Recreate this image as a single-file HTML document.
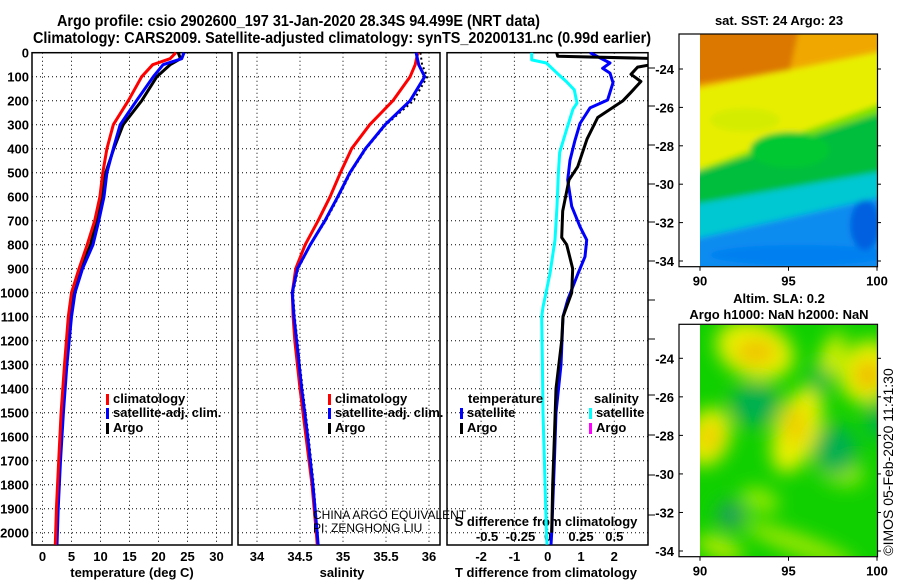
<!DOCTYPE html>
<html><head><meta charset="utf-8"><style>
body{margin:0;background:#fff}
svg text{font-family:"Liberation Sans",Arial,sans-serif;font-weight:bold;font-size:13px}
svg text.nb{font-weight:normal}
</style></head><body>
<svg id="c" width="900" height="580" viewBox="0 0 900 580" xmlns="http://www.w3.org/2000/svg">
<defs>
<filter id="blur1"><feGaussianBlur stdDeviation="3"/></filter>
<filter id="blur2"><feGaussianBlur stdDeviation="9"/></filter>
<clipPath id="clipTop"><rect x="700" y="34" width="177" height="232"/></clipPath>
<clipPath id="clipBot"><rect x="700" y="325" width="177" height="231"/></clipPath>
<clipPath id="clipP3"><rect x="447" y="52" width="201" height="493"/></clipPath>
</defs>
<text x="57" y="26" style="font-size:16px" textLength="483" lengthAdjust="spacingAndGlyphs">Argo profile: csio 2902600_197 31-Jan-2020 28.34S 94.499E (NRT data)</text>
<text x="33" y="43" style="font-size:16px" textLength="618" lengthAdjust="spacingAndGlyphs">Climatology: CARS2009. Satellite-adjusted climatology: synTS_20200131.nc (0.99d earlier)</text>
<g id="g"></g>
</svg>
<script>
// ---- data ----
const tDepth = [0,25,50,100,200,300,400,500,600,700,800,900,1000,1100,1300,1500,1700,1900,2050];
const tClim  = [23.0,22.0,19.0,17.1,14.8,12.2,11.1,10.4,9.9,9.0,7.7,6.3,5.0,4.45,3.8,3.2,2.8,2.4,2.2];
const tSat   = [24.4,24.0,20.8,19.1,16.2,13.4,12.2,11.1,10.6,9.7,8.7,6.9,5.6,5.0,4.2,3.6,3.1,2.7,2.5];
const tArgoDepth = [0,25,50,100,200,300,400,500,600,700,800,900,1000,1100,1300,1500,1700,1900,2000];
const tArgo  = [23.4,23.8,22.0,19.7,17.1,13.9,12.3,10.9,10.2,9.3,8.3,6.6,5.3,4.8,4.1,3.5,3.0,2.6,2.5];
const sDepth = [0,50,100,200,300,400,500,600,700,800,900,1000,1100,1200,1400,1600,1800,2000,2050];
const sClim  = [35.87,35.84,35.78,35.58,35.31,35.10,34.97,34.85,34.71,34.56,34.45,34.41,34.42,34.44,34.50,34.57,34.64,34.69,34.70];
const sSat   = [35.85,35.88,35.95,35.78,35.49,35.26,35.08,34.94,34.79,34.62,34.47,34.41,34.43,34.46,34.52,34.59,34.65,34.70,34.71];
const sArgo  = [35.90,35.92,35.98,35.82,35.50,35.27,35.09,34.95,34.80,34.62,34.48,34.42,34.44,34.47,34.53,34.60,34.66,34.70,34.71];
const dArgoDepth = [0,15,25,40,60,90,120,165,200,270,360,475,530,660,770,800,900,1000,1100,1200,1400,1600,1800,2000];
const dTArgo = [0.27,0.3,3.5,3.5,2.7,2.5,2.8,2.5,2.26,1.5,1.18,0.9,0.64,0.45,0.42,0.57,0.75,0.72,0.46,0.42,0.25,0.2,0.15,0.12];
const dSatDepth = [0,43,65,85,125,197,230,295,365,448,530,640,725,780,850,920,1030,1100,1300,1500,1700,2000,2050];
const dTSat  = [1.27,1.87,1.65,1.87,1.96,1.8,1.27,0.97,0.82,0.67,0.6,0.72,0.97,1.17,1.12,0.91,0.6,0.46,0.4,0.25,0.2,0.12,0.1];
const dSDepth = [0,30,43,85,120,155,210,235,305,415,500,640,780,920,1060,1100,1300,1500,1700,2000,2050];
const dSSat  = [-0.12,-0.12,-0.01,0.07,0.14,0.2,0.22,0.19,0.15,0.09,0.08,0.07,0.055,0.017,-0.035,-0.045,-0.04,-0.035,-0.025,-0.01,-0.005];
const depthTicks = [0,100,200,300,400,500,600,700,800,900,1000,1100,1200,1300,1400,1500,1600,1700,1800,1900,2000];
const tTicks = [0,5,10,15,20,25,30];
const sTicks = [34,34.5,35,35.5,36];
const sTickLabels = ["34","34.5","35","35.5","36"];
const dTTicks = [-2,-1,0,1,2];
const dSTicks = [-0.5,-0.25,0,0.25,0.5];
const dSTickLabels = ["-0.5","-0.25","0","0.25","0.5"];
const latTicks = [-24,-26,-28,-30,-32,-34];
const lonTicks = [90,95,100];

// ---- scales ----
const Y0=52.7, YB=545;
const yD = d => Y0 + d*0.24;
const xT = t => 42.5 + 5.8*t;
const xS = s => 257 + 86*(s-34);
const xDT = t => 547.7 + 33.3*t;
const xDS = s => 547.7 + 133.2*s;
const latTop = l => 69 + (-24-l)*19.2;
const latBot = l => 358.3 + (-24-l)*19.27;
const lonX = l => 700 + (l-90)*17.7;

const NS="http://www.w3.org/2000/svg";
const G=document.getElementById('g');
function mk(tag, attrs, parent){const e=document.createElementNS(NS,tag);for(const k in attrs)e.setAttribute(k,attrs[k]);(parent||G).appendChild(e);return e;}
function txt(x,y,s,anchor,extra){const e=mk('text',Object.assign({x:x,y:y,'text-anchor':anchor||'middle'},extra||{}));e.textContent=s;return e;}

// ---- panels ----
const panels=[{x0:32,x1:232,n:'temperature'},{x0:238,x1:440,n:'salinity'},{x0:447,x1:648,n:'difference'}];
panels.forEach(p=>{
  const r=mk('rect',{x:p.x0,y:Y0,width:p.x1-p.x0,height:YB-Y0,fill:'#fff',stroke:'#000','stroke-width':1.5});
  
  
  depthTicks.forEach(d=>{ if(d===0) return;
    const l=mk('line',{x1:p.x0,x2:p.x1,y1:yD(d),y2:yD(d),stroke:'#000','stroke-dasharray':'1,3'});
    
    
  });
});
function vgrid(xs,fn){xs.forEach(v=>{const l=mk('line',{x1:fn(v),x2:fn(v),y1:Y0,y2:YB,stroke:'#000','stroke-dasharray':'1,3'});
  
  });}
vgrid(tTicks,xT); vgrid(sTicks,xS); vgrid(dTTicks,xDT);

depthTicks.forEach(d=>{const t=txt(29,yD(d)+5,String(d),'end');
  
  });
tTicks.forEach(v=>{const t=txt(xT(v),561,String(v));
  
  });
sTicks.forEach((v,i)=>{const t=txt(xS(v),561,sTickLabels[i]);
  
  });
dTTicks.forEach(v=>{const t=txt(xDT(v),561,String(v));
  
  });
dSTicks.forEach((v,i)=>{const t=txt(xDS(v)+(v<0?6:0),541,dSTickLabels[i]);
  
  });
let at;
at=txt(132,577,'temperature (deg C)');  
at=txt(342,577,'salinity');  
at=txt(546,577,'T difference from climatology');  
at=txt(546,526,'S difference from climatology');  
// right ticks panel 3
[68,106,145,184,222,261,300,339,395,435,475,515].forEach(y=>{const l=mk('line',{x1:648,x2:655,y1:y,y2:y,stroke:'#000'});
  
  });

function line(ds,vs,xf,color,name,extra){
  const pts=ds.map((d,i)=>xf(vs[i]).toFixed(1)+','+yD(d).toFixed(1)).join(' ');
  const e=mk('polyline',Object.assign({points:pts,fill:'none',stroke:color,'stroke-width':3,'stroke-linejoin':'round'},extra||{}));
  
  
  return e;
}
line(tArgoDepth,tArgo,xT,'#000','temperature-argo-line');
line(tDepth,tSat,xT,'#0000ff','temperature-satellite-line');
line(tDepth,tClim,xT,'#ff0000','temperature-climatology-line');
line(sDepth,sClim,xS,'#ff0000','salinity-climatology-line');
line(sDepth,sArgo,xS,'#000','salinity-argo-line',{'stroke-dasharray':'2,3','stroke-width':2});
line(sDepth,sSat,xS,'#0000ff','salinity-satellite-line');
const cl={'clip-path':'url(#clipP3)'};
line(dSDepth,dSSat,xDS,'#00ffff','s-difference-satellite-line',cl);
line(dSatDepth,dTSat,xDT,'#0000ff','t-difference-satellite-line',cl);
line(dArgoDepth,dTArgo,xDT,'#000','t-difference-argo-line',cl);

// legends
function leg(x,y,c,s,n){const b=mk('rect',{x:x,y:y-9,width:3,height:11,fill:c});
  
  
  const t=txt(x+7,y,s,'start');
  
  }
leg(106,403,'#ff0000','climatology','legend-temp-climatology');
leg(106,417,'#0000ff','satellite-adj. clim.','legend-temp-satellite');
leg(106,432,'#000','Argo','legend-temp-argo');
leg(328,403,'#ff0000','climatology','legend-sal-climatology');
leg(328,417,'#0000ff','satellite-adj. clim.','legend-sal-satellite');
leg(328,432,'#000','Argo','legend-sal-argo');
at=txt(468,403,'temperature','start');  
at=txt(594,403,'salinity','start');  
leg(460,417,'#0000ff','satellite','legend-dt-satellite');
leg(460,432,'#000','Argo','legend-dt-argo');
leg(589,417,'#00ffff','satellite','legend-ds-satellite');
leg(589,432,'#ff00ff','Argo','legend-ds-argo');
at=txt(313,519,'CHINA ARGO EQUIVALENT','start',{'class':'nb',style:'font-size:12px'});  
at=txt(313,532,'PI: ZENGHONG LIU','start',{'class':'nb',style:'font-size:12px'});  

// ---- maps ----
function mapAxes(y0,y1,latf,name){
  const r=mk('rect',{x:679,y:y0,width:198.5,height:y1-y0,fill:'none',stroke:'#000','stroke-width':1.2});
  
  
  latTicks.forEach(l=>{const t=txt(674,latf(l)+5,String(l),'end');
    
    
    mk('line',{x1:679,x2:683,y1:latf(l),y2:latf(l),stroke:'#000'});
    mk('line',{x1:877,x2:881,y1:latf(l),y2:latf(l),stroke:'#000'});});
  lonTicks.forEach(l=>{const t=txt(lonX(l),y1+19,String(l));
    
    
    mk('line',{x1:lonX(l),x2:lonX(l),y1:y1,y2:y1+4,stroke:'#000'});});
}
// top SST map
const gt=mk('g',{'clip-path':'url(#clipTop)'});  
const gtb=mk('g',{filter:'url(#blur1)'},gt);
[['#0a8cf0',[[690,150],[890,150],[890,280],[690,280]]],
 ['#00c8d2',[[690,198],[890,160],[890,195],[690,240]]],
 ['#00be3c',[[690,176],[890,100],[890,170],[690,205]]],
 ['#7ee000',[[690,160],[890,95],[890,110],[690,175]]],
 ['#e8ee00',[[690,82],[890,40],[890,100],[690,172]]],
 ['#f0a800',[[690,25],[890,25],[890,50],[690,90]]],
 ['#dc7800',[[690,25],[800,25],[790,70],[690,85]]]].forEach(b=>{
  mk('polygon',{points:b[1].map(p=>p.join(',')).join(' '),fill:b[0]},gtb);});
mk('ellipse',{cx:790,cy:150,rx:40,ry:18,fill:'#00c832'},gtb);
mk('ellipse',{cx:745,cy:120,rx:35,ry:12,fill:'#d4ec00'},gtb);
mk('ellipse',{cx:800,cy:255,rx:90,ry:10,fill:'#0080f0'},gtb);
mk('ellipse',{cx:865,cy:225,rx:15,ry:25,fill:'#0060e0'},gtb);
mapAxes(34,266.7,latTop,'sst-map');
at=txt(779,25,'sat. SST: 24 Argo: 23');  

// bottom SLA map
const gb=mk('g',{'clip-path':'url(#clipBot)'});  
mk('rect',{x:700,y:325,width:177,height:231,fill:'#10d000'},gb);
const gbb=mk('g',{filter:'url(#blur2)'},gb);
[[755,350,40,28,'#e8f000'],[868,372,28,32,'#e8f000'],[708,437,22,30,'#e8f000'],[797,430,22,45,'#e8f000'],
 [840,470,25,15,'#90e800'],[760,500,20,12,'#90e800'],[800,545,60,10,'#a0e800'],[720,548,25,10,'#c0ec00'],[830,360,10,30,'#e0f000']].forEach(e=>
  mk('ellipse',{cx:e[0],cy:e[1],rx:e[2],ry:e[3],fill:e[4],transform:'rotate(20 '+e[0]+' '+e[1]+')'},gbb));
[[756,352,20,12,'#f0c000'],[868,375,12,14,'#f0b000'],[710,437,10,14,'#f0c800'],[795,425,10,20,'#f0c800']].forEach(e=>
  mk('ellipse',{cx:e[0],cy:e[1],rx:e[2],ry:e[3],fill:e[4]},gbb));
[[755,405,25,22,'#00b050'],[835,450,22,25,'#00b050'],[731,515,14,14,'#20a060'],[877,420,10,20,'#00b050'],[820,380,10,15,'#00b848']].forEach(e=>
  mk('ellipse',{cx:e[0],cy:e[1],rx:e[2],ry:e[3],fill:e[4]},gbb));
mapAxes(324.3,556.7,latBot,'sla-map');
at=txt(779,303,'Altim. SLA: 0.2');  
at=txt(779,319,'Argo h1000: NaN h2000: NaN');  
at=txt(0,0,'©IMOS 05-Feb-2020 11:41:30','middle',{'class':'nb',style:'font-size:14px',transform:'translate(893,462) rotate(-90)'});
 
</script>
</body></html>
